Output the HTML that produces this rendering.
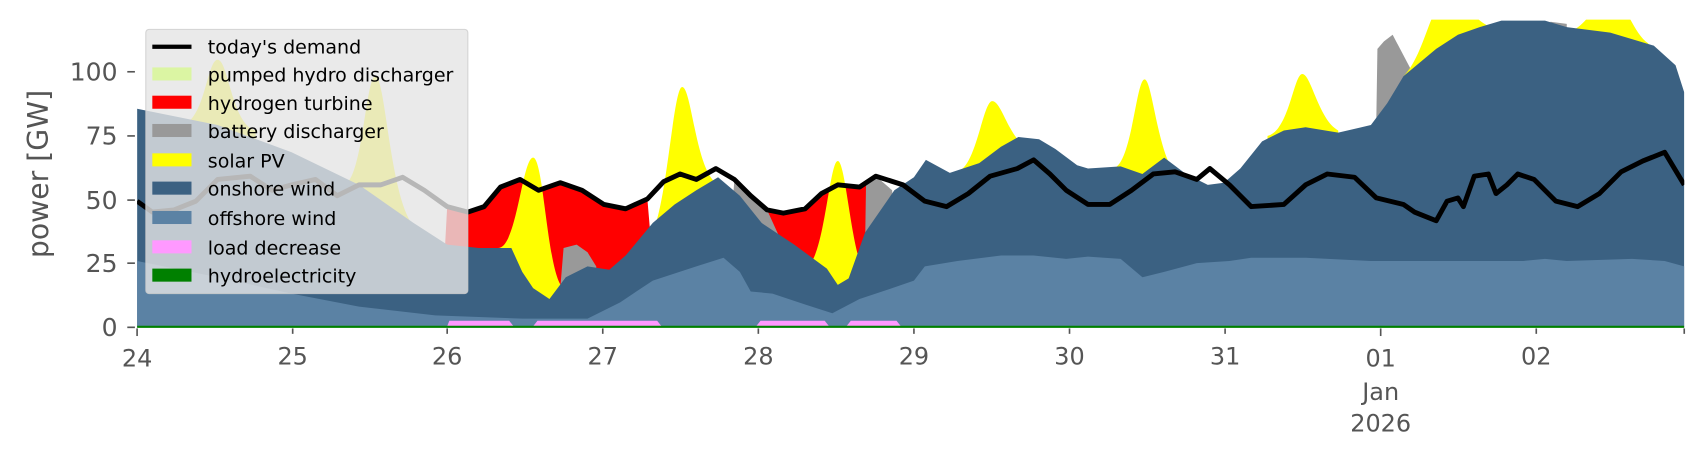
<!DOCTYPE html>
<html><head><meta charset="utf-8"><style>
html,body{margin:0;padding:0;background:#fff}
svg{display:block}
text{font-family:"DejaVu Sans","Liberation Sans",sans-serif;fill:#555}
</style></head><body>
<svg width="1706" height="460" viewBox="0 0 1568 423" preserveAspectRatio="none" xmlns="http://www.w3.org/2000/svg">
<defs><clipPath id="c"><rect x="126" y="18" width="1422" height="284"/></clipPath></defs>
<g clip-path="url(#c)">
<polygon fill="#dbf5a3" points="545,301 548,190 560,193 575,200 578,301"/>
<polygon fill="#ff0000" points="405,301 411,190 430,195 445,190 460,172 478,165 495,175 515,168 535,175 555,188 575,192 595,183 605,301"/>
<polygon fill="#ff0000" points="700,301 705,193 720,196 740,192 755,178 770,170 790,172 798,168 800,301"/>
<polygon fill="#999" points="512,301 518,228 530,225 540,232 548,245 550,301"/>
<polygon fill="#999" points="665,301 675,165 690,180 705,193 715,215 720,301"/>
<polygon fill="#999" points="794,301 796,167 805,162 820,175 825,301"/>
<polygon fill="#999" points="1070,301 1080,158 1100,165 1110,170 1112,301"/>
<polygon fill="#999" points="1262,301 1266,45 1272,38 1280,32 1300,70 1310,301"/>
<polygon fill="#999" points="1420,301 1425,20 1440,22 1445,301"/>
<g fill="#ffff00">
<path d="M165 301 L165 115 C188 115 190 55 200 55 C210 55 213 115 235 120 L235 301Z"/>
<path d="M315 301 L315 170 C333 170 336 70 345 70 C354 70 358 175 378 205 L378 301Z"/>
<path d="M458 301 L458 228 C475 228 480 145 490 145 C500 145 503 255 518 265 L518 301Z"/>
<path d="M595 301 L595 220 C612 210 618 80 627 80 C636 80 640 165 662 170 L662 301Z"/>
<path d="M740 301 L740 245 C757 245 762 148 770 148 C778 148 783 245 798 255 L798 301Z"/>
<path d="M878 301 L878 158 C897 158 903 93 912 93 C921 93 928 130 945 135 L945 301Z"/>
<path d="M1022 301 L1022 155 C1040 155 1044 73 1052 73 C1060 73 1065 160 1088 165 L1088 301Z"/>
<path d="M1165 301 L1165 125 C1185 120 1189 68 1197 68 C1205 68 1212 110 1230 120 L1230 301Z"/>
<path d="M1290 301 L1290 70 C1310 50 1315 0 1330 0 C1350 0 1360 30 1380 25 L1380 301Z"/>
<path d="M1440 301 L1440 30 C1460 25 1465 0 1480 0 C1495 0 1500 30 1515 40 L1515 301Z"/>
</g>
<polygon fill="#3b6182" points="126,301 126,100 200,115 268,140 330,170 380,205 411,225 440,228 470,228 480,250 490,265 505,275 520,255 540,245 560,248 575,235 600,205 620,188 640,175 660,163 680,180 700,205 730,225 760,247 770,262 780,256 795,214 822,175 840,163 851,147 873,159 900,150 920,135 936,126 955,128 970,137 990,152 1000,155 1030,153 1050,160 1070,145 1090,160 1110,170 1125,168 1140,155 1160,130 1180,120 1200,117 1230,122 1260,115 1275,95 1290,70 1320,45 1340,32 1360,25 1380,19 1420,19 1440,25 1480,30 1520,42 1540,60 1548,85 1548,301"/>
<polygon fill="#5b82a4" points="126,301 126,240 200,255 268,270 330,282 400,290 480,293 540,293 570,278 600,258 640,245 665,237 680,250 690,268 710,270 740,280 765,288 790,275 820,265 840,258 850,245 880,240 920,235 950,235 980,238 1000,236 1030,238 1050,255 1070,250 1100,242 1130,240 1150,237 1200,237 1260,240 1300,240 1400,240 1420,238 1440,240 1500,238 1530,240 1548,245 1548,301"/>
<g fill="#ff99ff">
<polygon points="411,300 413,295 468,295 472,300"/>
<polygon points="490,300 494,295 604,295 608,300"/>
<polygon points="695,300 699,295 758,295 762,300"/>
<polygon points="778,300 782,295 824,295 828,300"/>
</g>
<line x1="126" y1="300.5" x2="1548" y2="300.5" stroke="#008000" stroke-width="2"/>
<polyline fill="none" stroke="#000" stroke-width="4.5" stroke-linejoin="round" points="126,185 140,195 160,193 180,185 200,165 230,162 250,175 268,170 290,165 310,180 330,170 350,170 370,163 390,175 411,190 430,195 445,190 460,172 478,165 495,175 515,168 535,175 555,188 575,192 595,183 610,167 625,160 640,165 658,155 675,165 690,180 705,193 720,196 740,192 755,178 770,170 790,172 805,162 830,170 850,185 870,190 890,178 910,162 935,155 950,147 965,160 980,175 1000,188 1020,188 1040,175 1060,160 1080,158 1100,165 1112,155 1130,170 1150,190 1180,188 1200,170 1220,160 1245,163 1265,182 1290,188 1300,195 1320,203 1330,185 1340,182 1345,190 1355,162 1368,160 1375,178 1385,170 1395,160 1410,165 1430,185 1450,190 1470,178 1490,158 1510,148 1530,140 1548,170"/>
</g>
<rect x="134" y="27" width="296" height="243" rx="3" fill="#e5e5e5" fill-opacity="0.8" stroke="#ccc" stroke-opacity="0.8"/>
<g font-size="17.5">
<line x1="140" y1="43" x2="176" y2="43" stroke="#000" stroke-width="4"/>
<text x="191" y="49" style="fill:#000">today's demand</text>
<rect x="140" y="62" width="36" height="12" fill="#dbf5a3"/><text x="191" y="75" style="fill:#000">pumped hydro discharger</text>
<rect x="140" y="88" width="36" height="12" fill="#ff0000"/><text x="191" y="101" style="fill:#000">hydrogen turbine</text>
<rect x="140" y="114" width="36" height="12" fill="#999"/><text x="191" y="127" style="fill:#000">battery discharger</text>
<rect x="140" y="141" width="36" height="12" fill="#ffff00"/><text x="191" y="154" style="fill:#000">solar PV</text>
<rect x="140" y="167" width="36" height="12" fill="#3b6182"/><text x="191" y="180" style="fill:#000">onshore wind</text>
<rect x="140" y="194" width="36" height="12" fill="#5b82a4"/><text x="191" y="207" style="fill:#000">offshore wind</text>
<rect x="140" y="221" width="36" height="12" fill="#ff99ff"/><text x="191" y="234" style="fill:#000">load decrease</text>
<rect x="140" y="247" width="36" height="12" fill="#008000"/><text x="191" y="260" style="fill:#000">hydroelectricity</text>
</g>
<g stroke="#555" stroke-width="1.5">
<line x1="117" y1="301" x2="124" y2="301"/><line x1="117" y1="242" x2="124" y2="242"/><line x1="117" y1="184" x2="124" y2="184"/><line x1="117" y1="125" x2="124" y2="125"/><line x1="117" y1="66" x2="124" y2="66"/>
</g>
<g font-size="23" text-anchor="end">
<text x="108" y="309">0</text><text x="108" y="250">25</text><text x="108" y="192">50</text><text x="108" y="133">75</text><text x="108" y="74">100</text>
</g>
<text x="0" y="0" font-size="26" text-anchor="middle" transform="translate(44,160) rotate(-90)">power [GW]</text>
<g stroke="#555" stroke-width="1.5">
<line x1="126" y1="302" x2="126" y2="309"/><line x1="269" y1="302" x2="269" y2="307"/><line x1="411" y1="302" x2="411" y2="307"/><line x1="554" y1="302" x2="554" y2="307"/><line x1="697" y1="302" x2="697" y2="307"/><line x1="840" y1="302" x2="840" y2="307"/><line x1="983" y1="302" x2="983" y2="307"/><line x1="1126" y1="302" x2="1126" y2="307"/><line x1="1269" y1="302" x2="1269" y2="309"/><line x1="1412" y1="302" x2="1412" y2="307"/><line x1="1548" y1="302" x2="1548" y2="307"/>
</g>
<g font-size="22" text-anchor="middle">
<text x="126" y="337">24</text><text x="269" y="335">25</text><text x="411" y="335">26</text><text x="554" y="335">27</text><text x="697" y="335">28</text><text x="840" y="335">29</text><text x="983" y="335">30</text><text x="1126" y="335">31</text><text x="1269" y="337">01</text><text x="1412" y="335">02</text>
<text x="1269" y="368">Jan</text><text x="1269" y="397">2026</text>
</g>
</svg>
</body></html>
